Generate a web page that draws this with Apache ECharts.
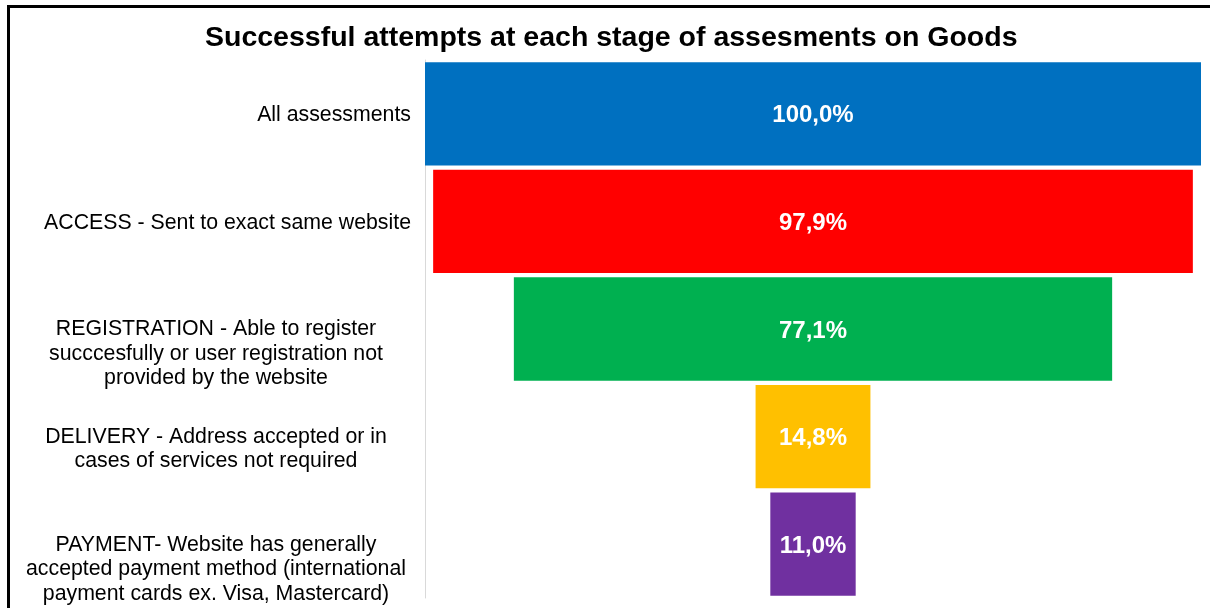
<!DOCTYPE html>
<html>
<head>
<meta charset="utf-8">
<script src="https://cdn.jsdelivr.net/npm/echarts@6/dist/echarts.min.js"></script>
<style>
  html, body { margin: 0; padding: 0; background: #fff; overflow: hidden; }
  #chart { position: absolute; left: 0; top: 0; width: 1210px; height: 608px; }
  #frame { position: absolute; left: 7px; top: 5px; width: 1300px; height: 700px;
           border: 3px solid #000; pointer-events: none; box-sizing: border-box; }
</style>
</head>
<body>
<div id="chart"></div>
<div id="frame"></div>
<script>
// Funnel stages, top to bottom
const stages = [
  'All assessments',
  'ACCESS - Sent to exact same website',
  'REGISTRATION - Able to register\nsucccesfully or user registration not\nprovided by the website',
  'DELIVERY - Address accepted or in\ncases of services not required',
  'PAYMENT- Website has generally\naccepted payment method (international\npayment cards ex. Visa, Mastercard)'
];
// Share of assessments that pass each stage (%)
const shares = [100.0, 97.9, 77.1, 14.8, 11.0];
const stageColors = ['#0070C0', '#FF0000', '#00B050', '#FFC000', '#7030A0'];

const fmtPct = v => v.toFixed(1).replace('.', ',') + '%';
const FONT = 'Liberation Sans, Arial, sans-serif';

const chart = echarts.init(document.getElementById('chart'), null, { renderer: 'canvas' });

chart.setOption({
  animation: false,
  backgroundColor: '#fff',
  title: {
    text: 'Successful attempts at each stage of assesments on Goods',
    left: 200,
    top: 19,
    textStyle: { fontFamily: FONT, fontWeight: 'bold', fontSize: 28.5, color: '#000' }
  },
  grid: { left: 425, right: 9, top: 60, bottom: 10, containLabel: false },
  xAxis: {
    type: 'value', min: 0, max: 100, show: false
  },
  yAxis: {
    type: 'category',
    inverse: true,
    data: stages,
    axisLine: { show: true, lineStyle: { color: '#D9D9D9', width: 1 } },
    axisTick: { show: false },
    axisLabel: {
      margin: 14,
      color: '#000',
      fontFamily: FONT,
      fontSize: 21.3,
      lineHeight: 24.5,
      formatter: function (val) {
        const lines = val.split('\n');
        if (lines.length === 1) return '{s|' + val + '}';
        // wrapped labels: first line sits on the stage centre, lines centred in a block
        const pad = new Array(lines.length - 1).fill('{w| }');
        return pad.concat(lines.map(l => '{w|' + l + '}')).join('\n');
      },
      rich: {
        s: {
          color: '#000', fontFamily: FONT, fontSize: 21.3, lineHeight: 24.5,
          padding: [3, 0, 0, 0]
        },
        w: {
          width: 390, align: 'center', color: '#000',
          fontFamily: FONT, fontSize: 21.3, lineHeight: 24.5,
          padding: [1, 0, 0, 0]
        }
      }
    }
  },
  series: [
    {
      // transparent spacer that centres each bar
      type: 'bar',
      stack: 'funnel',
      silent: true,
      itemStyle: { color: 'transparent' },
      data: shares.map(v => (100 - v) / 2),
      barCategoryGap: '4%'
    },
    {
      type: 'bar',
      stack: 'funnel',
      barCategoryGap: '4%',
      data: shares.map((v, i) => ({ value: v, itemStyle: { color: stageColors[i] } })),
      label: {
        show: true,
        position: 'inside',
        offset: [0, 2],
        color: '#fff',
        fontFamily: FONT,
        fontWeight: 'bold',
        fontSize: 24,
        formatter: p => fmtPct(p.value)
      }
    }
  ]
});
</script>
</body>
</html>
